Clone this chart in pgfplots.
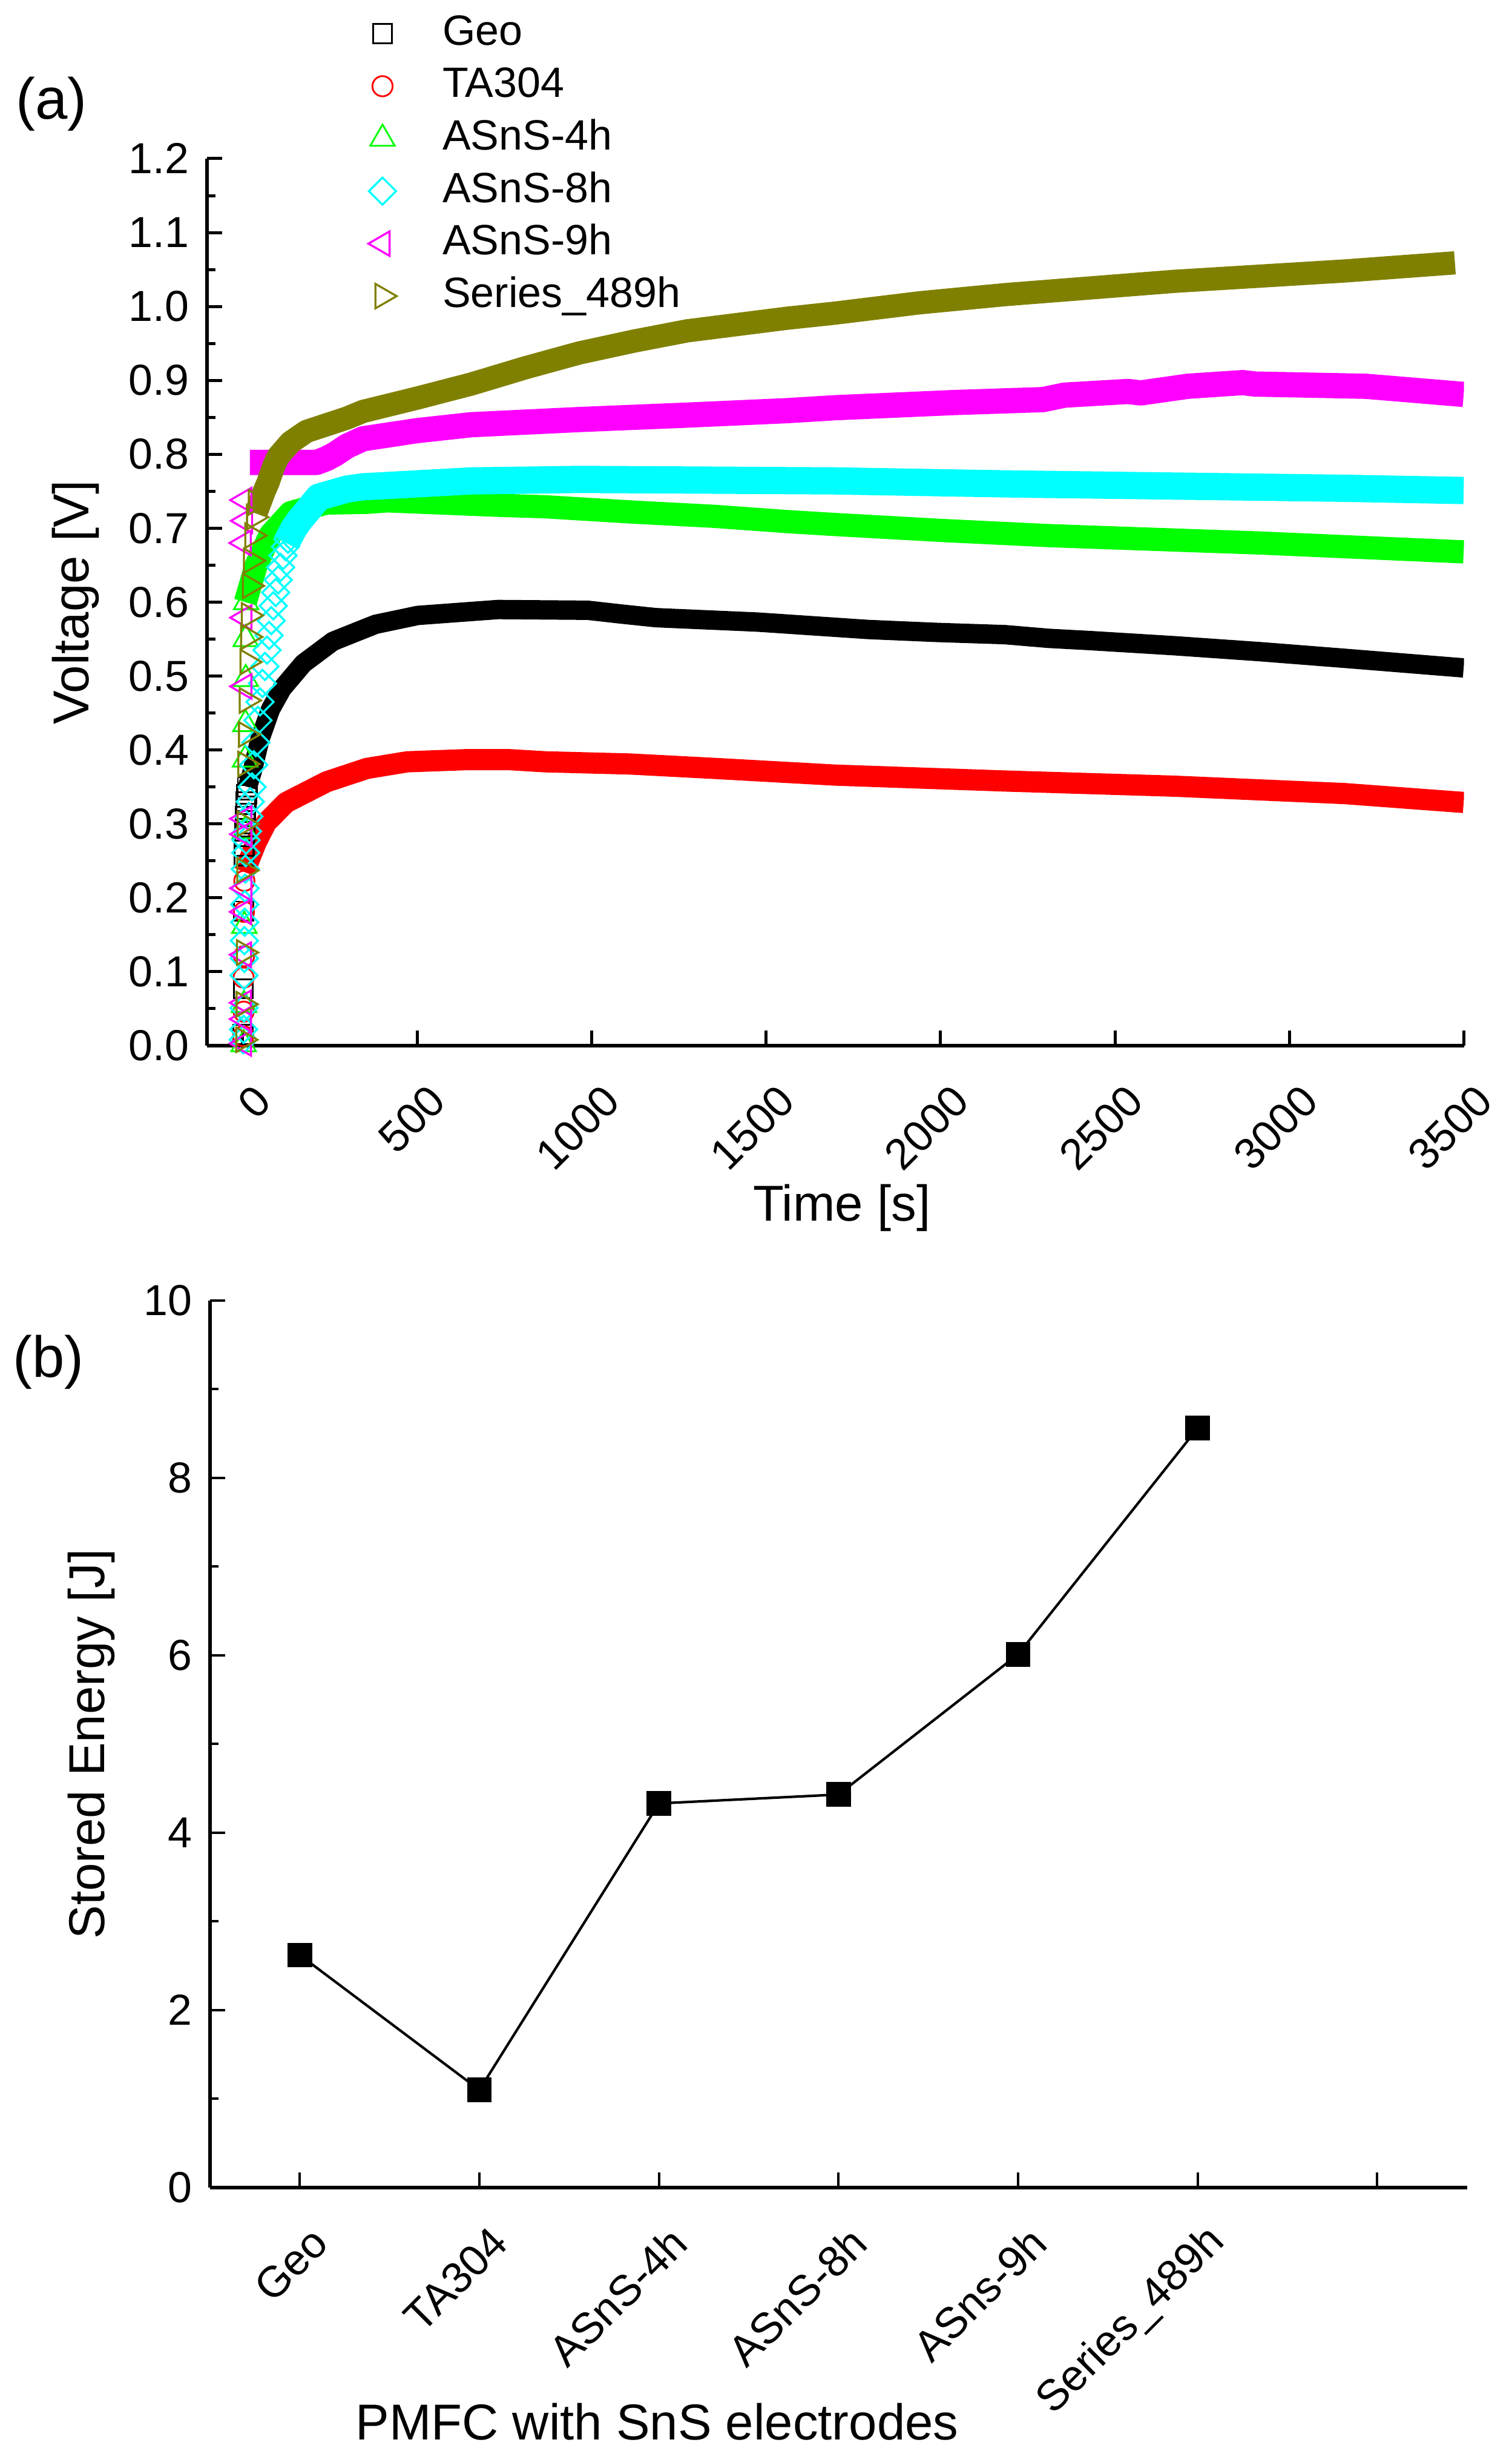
\documentclass[border=0pt]{standalone}
\usepackage{fontspec}
\setmainfont{Liberation Sans}
\usepackage{pgfplots}
\pgfplotsset{compat=1.18}

\definecolor{olv}{RGB}{128,128,0}
\definecolor{grn}{RGB}{0,255,0}
\definecolor{cyn}{RGB}{0,255,255}
\definecolor{mag}{RGB}{255,0,255}
\definecolor{rd}{RGB}{255,0,0}

\pgfplotsset{
  orgstyle/.style={
    scale only axis, width=249.2pt, height=175.8pt,
    axis lines=left, axis line style={-, line width=0.7pt},
    tick align=inside,
    major tick length=3pt, minor tick length=1.7pt,
    every tick/.style={black, line width=0.6pt},
    tick label style={font=\fontsize{8.6}{10}\selectfont},
    label style={font=\fontsize{10}{12}\selectfont},
    /pgf/number format/assume math mode=true,
    /pgf/number format/set thousands separator={},
  },
  mk/.style={only marks, mark options={line width=0.35pt, fill=none}},
}

\begin{document}
\begin{tikzpicture}
% (a) voltage vs time
\begin{axis}[orgstyle, at={(0pt,0pt)}, anchor=south west,
  xmin=-102, xmax=3500, ymin=0, ymax=1.2,
  xtick={0,500,1000,1500,2000,2500,3000,3500},
  ytick={0,0.1,0.2,0.3,0.4,0.5,0.6,0.7,0.8,0.9,1.0,1.1,1.2},
  minor y tick num=1,
  yticklabel style={/pgf/number format/.cd, fixed, fixed zerofill, precision=1},
  xticklabel style={xshift=6.5pt, yshift=-7pt, rotate=45, anchor=east},
  xlabel={Time [s]}, ylabel={Voltage [V]},
  xlabel style={at={(axis description cs:0.505,0)}, anchor=center, yshift=-32.2pt},
  ylabel style={at={(axis description cs:-0.1043,0.5)}, anchor=center},
  legend style={at={(axis description cs:0.1276,1.1715)}, anchor=north west,
    draw=none, fill=none, inner sep=0pt, font=\fontsize{8.4}{10}\selectfont,
    nodes={inner sep=1pt, text height=6.4pt, text depth=2pt},
    /tikz/every odd column/.append style={column sep=8.1pt}},
  legend cell align=left,
]
% Geo
\addplot[mk, black, mark=square, mark size=1.9pt] coordinates {
(1,0.015)(2,0.077)(3,0.182)(4,0.257)(5,0.27)(6,0.29)(7,0.30)(8,0.31)(9,0.32)(10,0.33)(12,0.34)(14,0.35)};
\addlegendentry{Geo}
\addplot[forget plot, black, line width=3.84pt, line join=round] coordinates {
(14,0.35)(27,0.37)(50,0.415)(80,0.455)(113,0.483)(174,0.517)(259,0.547)(381,0.570)(502,0.582)
(732,0.590)(989,0.589)(1083,0.584)(1184,0.579)(1476,0.573)(1792,0.563)(1990,0.559)(2185,0.556)
(2310,0.551)(2428,0.548)(2671,0.541)(2915,0.533)(3158,0.524)(3499,0.511)};
% TA304
\addplot[mk, rd, mark=o, mark size=2pt] coordinates {
(2,0.013)(3,0.046)(3,0.092)(4,0.121)(4,0.181)(5,0.223)};
\addlegendentry{TA304}
\addplot[forget plot, rd, line width=4.2pt, line join=round] coordinates {
(5,0.235)(39,0.275)(68,0.302)(125,0.329)(241,0.357)(356,0.375)(472,0.384)(646,0.387)(761,0.387)
(867,0.384)(1111,0.381)(1354,0.375)(1698,0.366)(2185,0.358)(2671,0.351)(3158,0.341)(3499,0.329)};
% ASnS-4h
\addplot[mk, grn, mark=triangle, mark size=2.8pt] coordinates {
(3,0.002)(4,0.055)(5,0.162)(6,0.29)(7,0.387)(8,0.435)(9,0.496)(9,0.55)(10,0.6)};
\addlegendentry{ASnS-4h}
\addplot[forget plot, grn, line width=4.6pt, line join=round] coordinates {
(8,0.600)(39,0.650)(79,0.691)(137,0.721)(183,0.727)(241,0.734)(357,0.735)(415,0.737)(732,0.731)
(867,0.729)(1111,0.722)(1354,0.716)(1559,0.709)(1698,0.705)(2002,0.697)(2310,0.690)(2428,0.688)
(2915,0.680)(3499,0.668)};
% ASnS-8h
\addplot[mk, cyn, mark=square, mark size=1.9pt, mark options={rotate=45}] coordinates {
(2,0.008)(3,0.022)(4,0.051)(4,0.095)(5,0.118)(5,0.142)(6,0.167)(6,0.191)(7,0.213)(8,0.239)
(9,0.261)(10,0.278)(14,0.29)(18,0.31)(22,0.33)(27,0.35)(32,0.38)(38,0.41)(44,0.44)(50,0.465)
(57,0.49)(64,0.513)(70,0.535)(76,0.555)(82,0.575)(88,0.595)(95,0.613)(102,0.63)(109,0.647)
(116,0.663)(123,0.675)(130,0.685)};
\addlegendentry{ASnS-8h}
\addplot[forget plot, cyn, line width=5.4pt, line join=round] coordinates {
(125,0.68)(146,0.699)(165,0.712)(183,0.722)(218,0.742)(299,0.753)(345,0.756)(655,0.764)(964,0.766)
(1354,0.765)(1698,0.764)(2185,0.760)(2671,0.757)(3158,0.754)(3499,0.751)};
% ASnS-9h
\addplot[mk, mag, mark=triangle, mark size=2.8pt, mark options={rotate=90}] coordinates {
(4,0.003)(4,0.036)(4,0.058)(4,0.123)(4,0.181)(5,0.213)(5,0.286)(5,0.307)(5,0.486)(5,0.579)
(3,0.680)(7,0.710)(5,0.738)};
\addlegendentry{ASnS-9h}
\addplot[forget plot, mag, line width=5pt, line join=round] coordinates {
(21,0.789)(212,0.789)(240,0.794)(264,0.800)(299,0.811)(345,0.821)(500,0.832)(655,0.840)(964,0.847)
(1274,0.853)(1559,0.859)(1698,0.863)(2039,0.870)(2294,0.874)(2355,0.880)
(2537,0.885)(2574,0.883)(2708,0.892)(2866,0.897)(2902,0.895)(3219,0.892)(3499,0.881)};
% Series_489h
\addplot[mk, olv, mark=triangle, mark size=2.8pt, mark options={rotate=-90}] coordinates {
(2,0.008)(3,0.056)(4,0.126)(5,0.237)(6,0.30)(8,0.381)(10,0.421)(12,0.467)(14,0.519)(16,0.553)
(18,0.582)(21,0.622)(24,0.656)(28,0.69)(33,0.715)(38,0.735)};
\addlegendentry{Series\_489h}
\addplot[forget plot, olv, line width=4.6pt, line join=round] coordinates {
(38,0.72)(50,0.735)(62,0.75)(73,0.762)(90,0.785)(102,0.797)(137,0.816)(183,0.831)(299,0.849)
(345,0.858)(500,0.876)(655,0.895)(810,0.917)(964,0.937)(1120,0.953)(1274,0.967)(1559,0.984)
(1698,0.991)(1941,1.005)(2185,1.016)(2428,1.025)(2671,1.034)(2915,1.041)(3158,1.048)(3474,1.059)};
\end{axis}
\node[font=\fontsize{11.5}{13}\selectfont] at (-30.8pt,186.6pt) {(a)};

% (b) stored energy
\begin{axis}[orgstyle, at={(0.6pt,-226.3pt)}, anchor=south west,
  every tick/.style={black, line width=0.45pt},
  xmin=0.5, xmax=7.5, ymin=0, ymax=10,
  xtick={1,2,3,4,5,6,7},
  xticklabels={Geo,TA304,ASnS-4h,ASnS-8h,ASns-9h,Series\_489h,{}},
  ytick={0,2,4,6,8,10}, minor y tick num=1,
  xticklabel style={xshift=6.5pt, yshift=-7pt, rotate=45, anchor=east},
  xlabel={PMFC with SnS electrodes}, ylabel={Stored Energy [J]},
  xlabel style={at={(axis description cs:0.3557,0)}, anchor=center, yshift=-46.4pt},
  ylabel style={at={(axis description cs:-0.0943,0.5)}, anchor=center},
]
\addplot[black, line width=0.5pt, mark=square*, mark size=2.2pt] coordinates {
(1,2.62)(2,1.10)(3,4.33)(4,4.43)(5,6.01)(6,8.56)};
\end{axis}
\node[font=\fontsize{11.5}{13}\selectfont] at (-31.4pt,-62.7pt) {(b)};

\pgfresetboundingbox
\path[use as bounding box] (-41.04pt,-279.12pt) rectangle (258.6pt,207.24pt);
\end{tikzpicture}
\end{document}
